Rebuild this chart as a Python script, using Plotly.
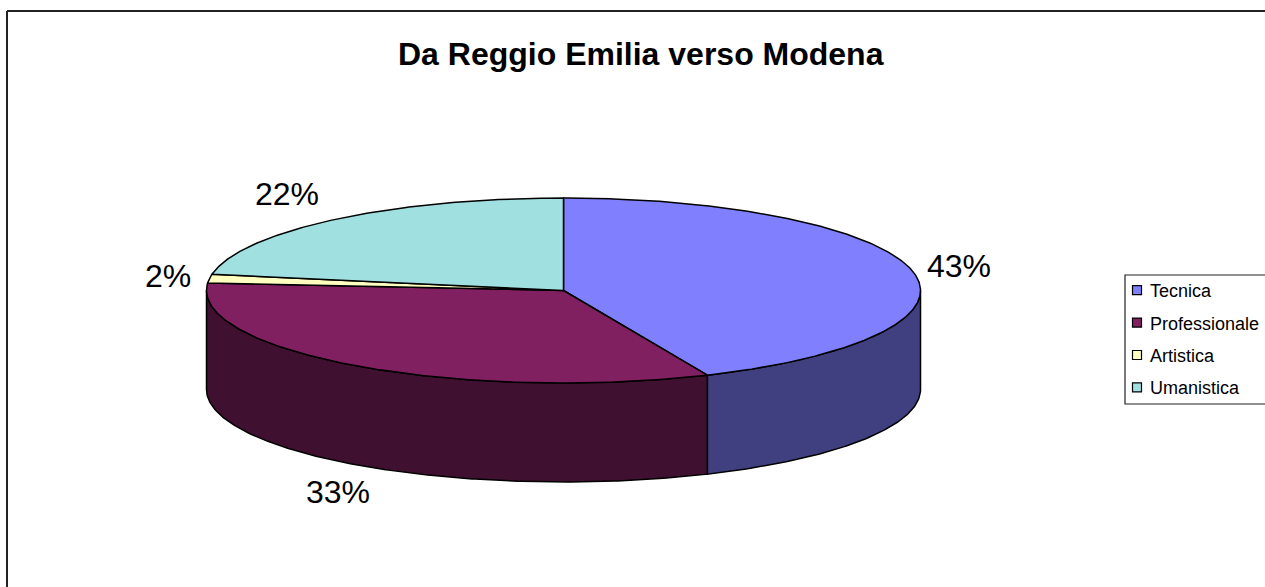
import numpy as np
import plotly.graph_objects as go

categories = ["Tecnica", "Professionale", "Artistica", "Umanistica"]
shares = [43.4, 32.9, 1.5, 22.2]
top_colors = ["#8080FF", "#802060", "#FFFFC0", "#A0E0E0"]
side_colors = ["#404080", "#401030", "#808060", "#507070"]
title = "Da Reggio Emilia verso Modena"
label_positions = [(959, 266), (338, 492), (168, 276), (287, 194)]

W, H = 1265, 587
CX, CY, RX, RY, DEPTH = 563.5, 290.5, 357, 92.5, 99
FONT = "Liberation Sans, Arial, sans-serif"


def rim(a0, a1, dy=0.0):
    t = np.radians(np.linspace(a0, a1, max(2, int(abs(a1 - a0) * 2) + 1)))
    return CX + RX * np.sin(t), CY - RY * np.cos(t) + dy


fig = go.Figure()
total = sum(shares)
edges = np.concatenate([[0], np.cumsum(shares)]) / total * 360
outline = dict(color="black", width=1.5)

# front wall of the disc: only the part between 90 and 270 degrees is visible
for i in range(len(shares)):
    a0, a1 = max(edges[i], 90), min(edges[i + 1], 270)
    if a1 <= a0:
        continue
    xt, yt = rim(a0, a1)
    xb, yb = rim(a1, a0, DEPTH)
    fig.add_trace(go.Scatter(
        x=np.concatenate([xt, xb, xt[:1]]), y=np.concatenate([yt, yb, yt[:1]]),
        mode="lines", fill="toself", fillcolor=side_colors[i], line=outline,
        showlegend=False, hoverinfo="skip"))

# top face
for i, name in enumerate(categories):
    xt, yt = rim(edges[i], edges[i + 1])
    fig.add_trace(go.Scatter(
        x=np.concatenate([[CX], xt, [CX]]), y=np.concatenate([[CY], yt, [CY]]),
        mode="lines", fill="toself", fillcolor=top_colors[i], line=outline,
        showlegend=False, hoverinfo="skip"))

# legend entries
for i, name in enumerate(categories):
    fig.add_trace(go.Scatter(
        x=[None], y=[None], mode="markers", name=name, legendgroup=name,
        marker=dict(symbol="square", size=9, color=top_colors[i],
                    line=dict(color="black", width=1.2))))

annotations = [dict(x=640.5, y=54, text=f"<b>{title}</b>", showarrow=False,
                    font=dict(family=FONT, size=32, color="black"))]
for v, (lx, ly) in zip(shares, label_positions):
    annotations.append(dict(x=lx, y=ly, text=f"{round(v / total * 100)}%", showarrow=False,
                            font=dict(family=FONT, size=32, color="black")))

line = dict(color="#222222", width=2)
fig.update_layout(
    width=W, height=H, margin=dict(l=0, r=0, t=0, b=0),
    paper_bgcolor="white", plot_bgcolor="white",
    xaxis=dict(range=[0, W], visible=False, fixedrange=True),
    yaxis=dict(range=[H, 0], visible=False, fixedrange=True),
    annotations=annotations,
    shapes=[
        dict(type="line", x0=7, x1=W, y0=11, y1=11, line=line),
        dict(type="line", x0=7, x1=7, y0=11, y1=H, line=line),
        dict(type="rect", x0=1125, x1=W + 5, y0=275, y1=404,
             line=dict(color="#222222", width=1.2), fillcolor="white", layer="below"),
    ],
    legend=dict(x=1110 / W, y=1 - 272 / H, xanchor="left", yanchor="top",
                bgcolor="rgba(0,0,0,0)", borderwidth=0, tracegroupgap=6,
                font=dict(family=FONT, size=18, color="black"), itemclick=False,
                itemdoubleclick=False),
    showlegend=True,
)
fig.write_html(
    "out.html", config=dict(displayModeBar=False),
    post_script=(
        "document.body.style.margin='0';document.body.style.overflow='hidden';"
        "document.querySelectorAll('.legend .legendpoints')"
        ".forEach(function(g){g.setAttribute('transform','translate(7,0)');});"
    ),
)
